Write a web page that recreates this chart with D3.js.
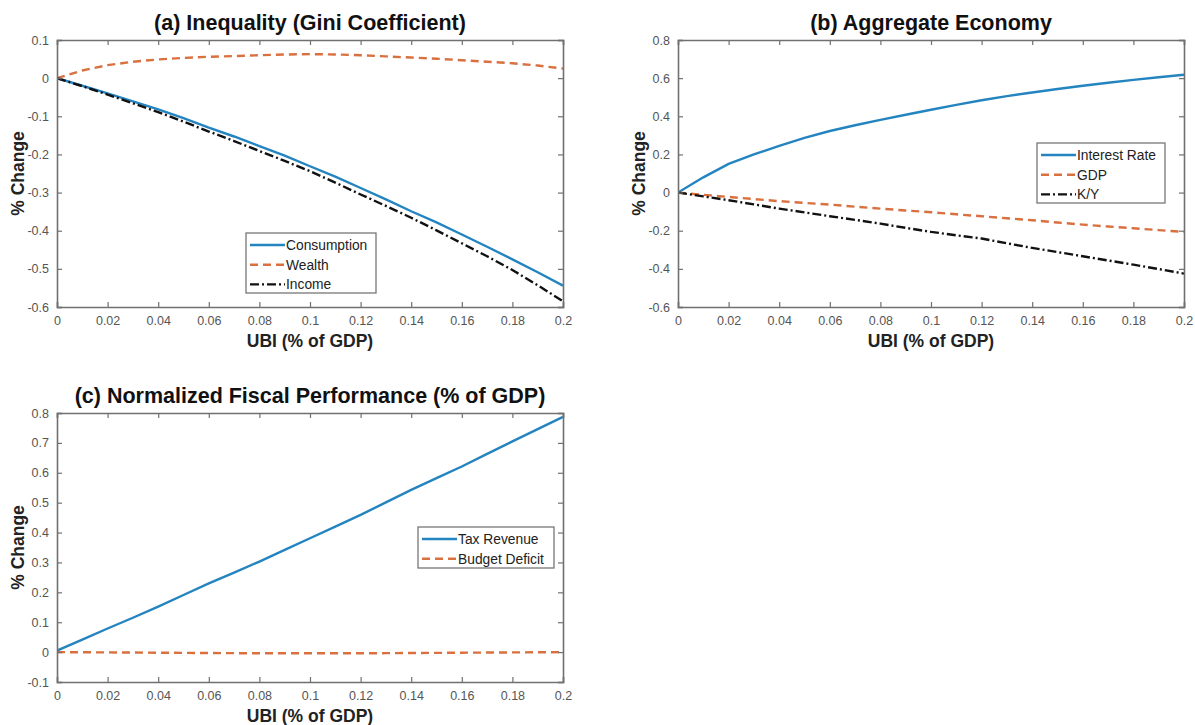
<!DOCTYPE html>
<html>
<head>
<meta charset="utf-8">
<script src="https://cdn.jsdelivr.net/npm/d3@7"></script>
<style>
  html, body { margin: 0; padding: 0; background: #fff; }
  svg { display: block; font-family: "Liberation Sans", Arial, Helvetica, sans-serif; }
</style>
</head>
<body>
<svg id="chart" width="1195" height="725"></svg>
<script>
// ---------- DATA ----------
const ubi = [0, 0.01, 0.02, 0.03, 0.04, 0.05, 0.06, 0.07, 0.08, 0.09, 0.10,
             0.11, 0.12, 0.13, 0.14, 0.15, 0.16, 0.17, 0.18, 0.19, 0.20];
const xTicks = [0, 0.02, 0.04, 0.06, 0.08, 0.1, 0.12, 0.14, 0.16, 0.18, 0.2];

// (a) Inequality (Gini Coefficient)
const consumption = [0, -0.020, -0.040, -0.061, -0.082, -0.105, -0.130, -0.153, -0.178, -0.203, -0.231,
                     -0.258, -0.288, -0.318, -0.349, -0.378, -0.410, -0.442, -0.475, -0.509, -0.544];
const wealth = [0, 0.020, 0.034, 0.043, 0.049, 0.053, 0.056, 0.058, 0.060, 0.062, 0.063,
                0.062, 0.060, 0.057, 0.054, 0.051, 0.047, 0.043, 0.039, 0.033, 0.025];
const income = [0, -0.021, -0.043, -0.066, -0.089, -0.114, -0.140, -0.165, -0.191, -0.217, -0.244,
                -0.274, -0.305, -0.335, -0.366, -0.399, -0.433, -0.467, -0.503, -0.543, -0.585];
const yTicksA = [-0.6, -0.5, -0.4, -0.3, -0.2, -0.1, 0, 0.1];

// (b) Aggregate Economy
const interestRate = [0, 0.080, 0.150, 0.200, 0.245, 0.287, 0.323, 0.353, 0.381, 0.408, 0.434,
                      0.460, 0.484, 0.506, 0.525, 0.543, 0.560, 0.576, 0.591, 0.605, 0.618];
const gdp = [0, -0.012, -0.023, -0.034, -0.045, -0.054, -0.063, -0.074, -0.084, -0.094, -0.103,
             -0.114, -0.124, -0.135, -0.145, -0.157, -0.168, -0.178, -0.187, -0.197, -0.206];
const ky = [0, -0.020, -0.040, -0.062, -0.084, -0.104, -0.124, -0.143, -0.163, -0.185, -0.206,
            -0.224, -0.241, -0.266, -0.290, -0.312, -0.334, -0.356, -0.378, -0.401, -0.425];
const yTicksB = [-0.6, -0.4, -0.2, 0, 0.2, 0.4, 0.6, 0.8];

// (c) Normalized Fiscal Performance (% of GDP)
const taxRevenue = [0.005, 0.042, 0.079, 0.115, 0.152, 0.191, 0.230, 0.266, 0.303, 0.342, 0.381,
                    0.420, 0.459, 0.501, 0.543, 0.582, 0.621, 0.663, 0.705, 0.746, 0.787];
const budgetDeficit = [0, -0.0005, -0.001, -0.0015, -0.002, -0.0025, -0.003, -0.0035, -0.004, -0.004, -0.004,
                       -0.004, -0.004, -0.0035, -0.003, -0.0025, -0.002, -0.0015, -0.001, -0.0005, 0];
const yTicksC = [-0.1, 0, 0.1, 0.2, 0.3, 0.4, 0.5, 0.6, 0.7, 0.8];

// ---------- STYLE ----------
const BLUE = "#2484c0", ORANGE = "#d9703f", BLACK = "#111";
const styles = {
  solid:   { color: BLUE,   dash: null },
  dashed:  { color: ORANGE, dash: "8,5" },
  dashdot: { color: BLACK,  dash: "9,3,2,3" }
};

const svg = d3.select("#chart");

function drawPanel(cfg) {
  const { left, right, top, bottom, yDomain, yTicks, title, series, legend } = cfg;
  const g = svg.append("g");
  const x = d3.scaleLinear().domain([0, 0.2]).range([left, right]);
  const y = d3.scaleLinear().domain(yDomain).range([bottom, top]);

  const fmt = d => d === 0 ? "0" : String(+d.toFixed(2));

  const clipId = "clip" + Math.round(left) + "_" + Math.round(top);
  svg.append("clipPath").attr("id", clipId).append("rect")
    .attr("x", left).attr("y", top).attr("width", right - left).attr("height", bottom - top);

  const line = d3.line().x((d, i) => x(ubi[i])).y(d => y(d));
  series.forEach(s => {
    g.append("path")
      .datum(s.values)
      .attr("clip-path", `url(#${clipId})`)
      .attr("fill", "none")
      .attr("stroke", styles[s.style].color)
      .attr("stroke-width", 2.4)
      .attr("stroke-dasharray", styles[s.style].dash)
      .attr("d", line);
  });

  const axColor = "#707070";
  const bottomAxis = d3.axisBottom(x).tickValues(xTicks).tickSize(-5).tickPadding(9).tickFormat(fmt);
  const topAxis = d3.axisTop(x).tickValues(xTicks).tickSize(-5).tickFormat("");
  const leftAxis = d3.axisLeft(y).tickValues(yTicks).tickSize(-5).tickPadding(8).tickFormat(fmt);
  const rightAxis = d3.axisRight(y).tickValues(yTicks).tickSize(-5).tickFormat("");

  const axes = [
    [bottomAxis, `translate(0,${bottom})`],
    [topAxis, `translate(0,${top})`],
    [leftAxis, `translate(${left},0)`],
    [rightAxis, `translate(${right},0)`]
  ];
  axes.forEach(([ax, tr]) => {
    const a = g.append("g").attr("transform", tr).call(ax);
    a.select(".domain").attr("stroke", axColor).attr("stroke-width", 1.6);
    a.selectAll(".tick line").attr("stroke", axColor).attr("stroke-width", 1.2);
    a.selectAll(".tick text").attr("fill", "#555").attr("font-size", 12.5)
      .attr("font-family", "'Liberation Sans', Arial, sans-serif");
  });

  g.append("text")
    .attr("x", (left + right) / 2).attr("y", top - 10)
    .attr("text-anchor", "middle")
    .attr("font-size", 21.5).attr("font-weight", "bold").attr("fill", "#111")
    .text(title);

  g.append("text")
    .attr("x", (left + right) / 2).attr("y", bottom + 40)
    .attr("text-anchor", "middle")
    .attr("font-size", 17.5).attr("font-weight", "bold").attr("fill", "#222")
    .text("UBI (% of GDP)");

  g.append("text")
    .attr("transform", `translate(${left - 33},${(top + bottom) / 2}) rotate(-90)`)
    .attr("text-anchor", "middle")
    .attr("font-size", 17.5).attr("font-weight", "bold").attr("fill", "#222")
    .text("% Change");

  const lg = g.append("g");
  lg.append("rect")
    .attr("x", legend.x).attr("y", legend.y)
    .attr("width", legend.w).attr("height", legend.h)
    .attr("fill", "#fff").attr("stroke", "#777").attr("stroke-width", 1.3);
  series.forEach((s, i) => {
    const cy = legend.y + 12 + i * 19.7;
    lg.append("line")
      .attr("x1", legend.x + 4).attr("x2", legend.x + 39)
      .attr("y1", cy).attr("y2", cy)
      .attr("stroke", styles[s.style].color).attr("stroke-width", 2.4)
      .attr("stroke-dasharray", styles[s.style].dash);
    lg.append("text")
      .attr("x", legend.x + 40).attr("y", cy + 5)
      .attr("font-size", 13.8).attr("fill", "#222")
      .text(s.name);
  });
}

drawPanel({
  left: 57, right: 563, top: 40, bottom: 307,
  yDomain: [-0.6, 0.1], yTicks: yTicksA,
  title: "(a) Inequality (Gini Coefficient)",
  series: [
    { name: "Consumption", values: consumption, style: "solid" },
    { name: "Wealth", values: wealth, style: "dashed" },
    { name: "Income", values: income, style: "dashdot" }
  ],
  legend: { x: 246, y: 233, w: 130, h: 60 }
});

drawPanel({
  left: 678, right: 1184, top: 40, bottom: 307,
  yDomain: [-0.6, 0.8], yTicks: yTicksB,
  title: "(b) Aggregate Economy",
  series: [
    { name: "Interest Rate", values: interestRate, style: "solid" },
    { name: "GDP", values: gdp, style: "dashed" },
    { name: "K/Y", values: ky, style: "dashdot" }
  ],
  legend: { x: 1037, y: 143, w: 128, h: 60 }
});

drawPanel({
  left: 57, right: 563, top: 413, bottom: 682,
  yDomain: [-0.1, 0.8], yTicks: yTicksC,
  title: "(c) Normalized Fiscal Performance (% of GDP)",
  series: [
    { name: "Tax Revenue", values: taxRevenue, style: "solid" },
    { name: "Budget Deficit", values: budgetDeficit, style: "dashed" }
  ],
  legend: { x: 418, y: 527, w: 136, h: 41 }
});
</script>
</body>
</html>
